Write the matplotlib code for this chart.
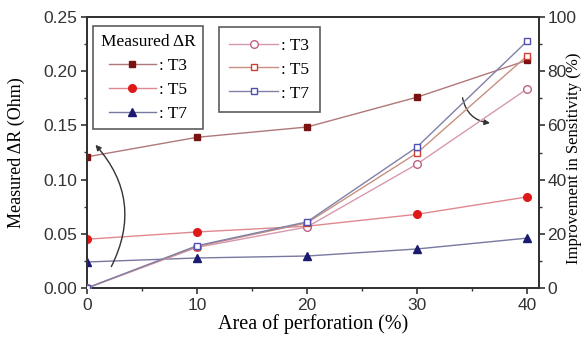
import matplotlib
matplotlib.use("Agg")
import matplotlib.pyplot as plt
from matplotlib.ticker import MultipleLocator

# data
area = [0, 10, 20, 30, 40]
dr_t3 = [0.121, 0.139, 0.1485, 0.176, 0.210]
dr_t5 = [0.045, 0.0517, 0.057, 0.068, 0.084]
dr_t7 = [0.024, 0.0277, 0.0295, 0.036, 0.046]
imp_t3 = [0, 15, 22.5, 45.7, 73.4]
imp_t5 = [0, 15.3, 24, 49.8, 85.6]
imp_t7 = [0, 15.6, 24.4, 52, 91]
series_labels = [": T3", ": T5", ": T7"]

serif = "Liberation Serif"
sans = "Liberation Sans"

fig = plt.figure(figsize=(5.85, 3.45), dpi=100)
ax = fig.add_axes([87 / 585, 1 - 288 / 345, (539 - 87) / 585, (288 - 17) / 345])
ax2 = ax.twinx()

# left axis: measured dR (filled markers)
l1, = ax.plot(area, dr_t3, color="#b07878", lw=1, marker="s", ms=5,
              mfc="#7a1212", mec="#7a1212", zorder=3)
l2, = ax.plot(area, dr_t5, color="#e08890", lw=1, marker="o", ms=5.5,
              mfc="#e01818", mec="#e01818", zorder=3)
l3, = ax.plot(area, dr_t7, color="#7878a0", lw=1, marker="^", ms=6,
              mfc="#1a1a70", mec="#1a1a70", zorder=3)

# right axis: improvement (open markers)
r1, = ax2.plot(area, imp_t3, color="#d898b0", lw=1, marker="o", ms=5.5,
               mfc="white", mec="#c06088", zorder=3)
r2, = ax2.plot(area, imp_t5, color="#c89080", lw=1, marker="s", ms=5,
               mfc="white", mec="#d04030", zorder=3)
r3, = ax2.plot(area, imp_t7, color="#8080a8", lw=1, marker="s", ms=5,
               mfc="white", mec="#5050b0", zorder=3)

ax.set_xlim(0, 41.1)
ax.set_ylim(0, 0.25)
ax2.set_ylim(0, 100)
ax.xaxis.set_major_locator(MultipleLocator(10))
ax.xaxis.set_minor_locator(MultipleLocator(5))
ax.yaxis.set_major_locator(MultipleLocator(0.05))
ax.yaxis.set_minor_locator(MultipleLocator(0.025))
ax2.yaxis.set_major_locator(MultipleLocator(20))
ax2.yaxis.set_minor_locator(MultipleLocator(10))
ax.yaxis.set_major_formatter(plt.FuncFormatter(lambda v, p: f"{v:.2f}"))

for a in (ax, ax2):
    a.tick_params(which="major", direction="out", length=4, width=1.2,
                  labelsize=12.5, colors="#333333", pad=3)
    a.tick_params(which="minor", direction="out", length=2.5, width=1, colors="#333333")
    for s in a.spines.values():
        s.set_linewidth(1.4)
        s.set_color("#333333")
    for lab in a.get_xticklabels() + a.get_yticklabels():
        lab.set_fontfamily(sans)
ax2.tick_params(which="major", pad=2)

ax.set_xlabel("Area of perforation (%)", fontfamily=serif, fontsize=14.5, labelpad=1)
ax.set_ylabel("Measured \u0394R (Ohm)", fontfamily=serif, fontsize=13)
ax.yaxis.set_label_coords(-0.137, 0.5)
ax2.set_ylabel("Improvement in Sensitivity (%)", fontfamily=serif, fontsize=12)
ax2.yaxis.set_label_coords(1.0597, 0.478)

# legends
leg1 = ax2.legend([l1, l2, l3], series_labels, title="Measured \u0394R",
                  loc="upper left", bbox_to_anchor=(0.0133, 0.967), borderaxespad=0,
                  prop={"family": serif, "size": 12.5},
                  title_fontproperties={"family": serif, "size": 12.5},
                  frameon=True, fancybox=False, edgecolor="#333333", handlelength=2.7,
                  handletextpad=0.2, borderpad=0.45, labelspacing=0.45)
leg1.get_frame().set_linewidth(1.2)
ax2.add_artist(leg1)
leg2 = ax2.legend([r1, r2, r3], series_labels,
                  loc="upper left", bbox_to_anchor=(0.292, 0.963), borderaxespad=0,
                  prop={"family": serif, "size": 12.5},
                  frameon=True, fancybox=False, edgecolor="#333333", handlelength=2.8,
                  handletextpad=0.2, borderpad=0.6, labelspacing=0.45)
leg2.get_frame().set_linewidth(1.2)

# curved arrows pointing to the axes
ax.annotate("", xy=(0.6, 0.134), xytext=(2.1, 0.0175),
            arrowprops=dict(arrowstyle="-|>", color="#333333", lw=1,
                            connectionstyle="arc3,rad=0.35", mutation_scale=8))
ax.annotate("", xy=(36.9, 0.152), xytext=(34.1, 0.178),
            arrowprops=dict(arrowstyle="-|>", color="#333333", lw=1,
                            connectionstyle="arc3,rad=0.4", mutation_scale=8))

fig.savefig("out.png", dpi=100)
